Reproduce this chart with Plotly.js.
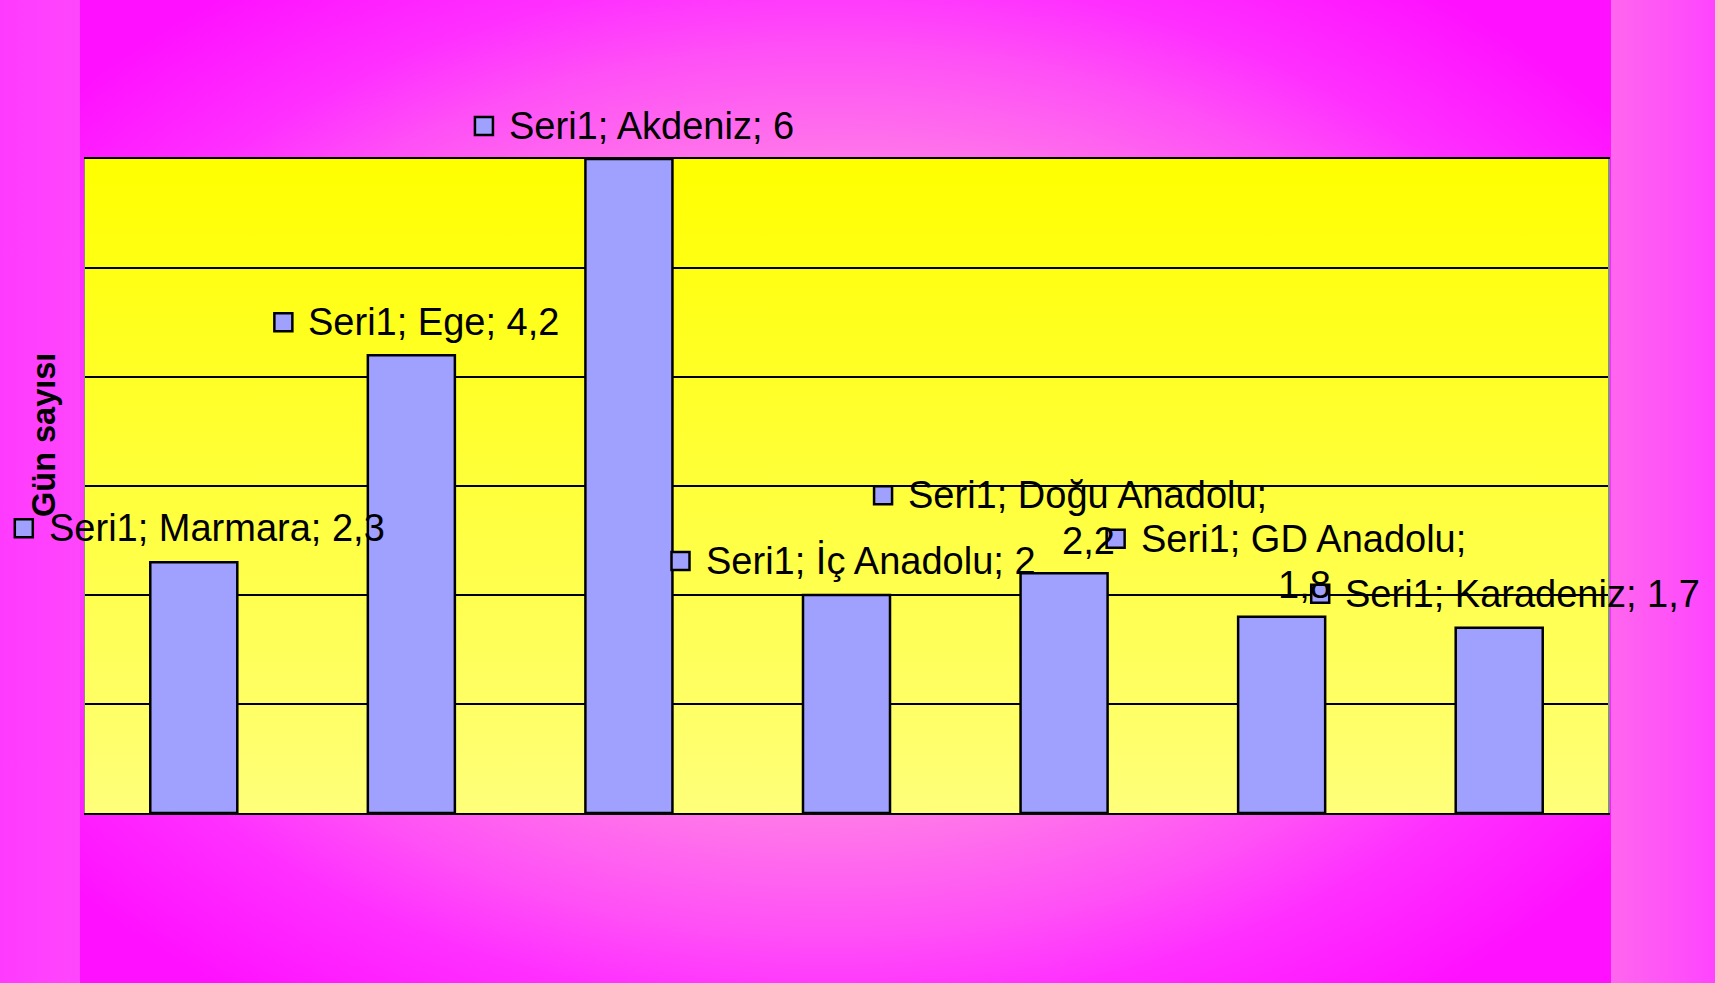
<!DOCTYPE html>
<html>
<head>
<meta charset="utf-8">
<script src="https://cdn.plot.ly/plotly-3.0.1.min.js"></script>
<style>
  html, body { margin: 0; padding: 0; width: 1715px; height: 983px; overflow: hidden; }
  #wrap { position: relative; width: 1715px; height: 983px; }
  .bg { position: absolute; top: 0; height: 983px; }
  #bgLeft { left: 0; width: 80px; background: linear-gradient(to right, #ff3aff, #ff46fc); }
  #bgCenter { left: 80px; width: 1531px;
    background: radial-gradient(closest-side ellipse at 49% 50%, #ffa8d4 0%, #ff94dc 45%, #ff80e6 62%, #ff50f6 90%, #ff30ff 105%, #ff10ff 130%); }
  #bgRight { left: 1611px; width: 104px; background: linear-gradient(to right, #ff66ee, #ff44ff); }
  #plotBg { position: absolute; left: 85px; top: 159px; width: 1523px; height: 654px;
    background: linear-gradient(to bottom, #ffff00 0%, #ffff3a 50%, #ffff7a 100%); }
  #chart { position: absolute; left: 0; top: 0; width: 1715px; height: 983px; }
  /* legend keys of the data labels may sit outside the plot area, as in the original */
  #chart .shapelayer, #chart .shapelayer * { clip-path: none !important; }
</style>
</head>
<body>
<div id="wrap">
  <div class="bg" id="bgLeft"></div>
  <div class="bg" id="bgCenter"></div>
  <div class="bg" id="bgRight"></div>
  <div id="plotBg"></div>
  <div id="chart"></div>
</div>
<script>
// ---- data ----
const categories = ['Marmara', 'Ege', 'Akdeniz', 'İç Anadolu', 'Doğu Anadolu', 'GD Anadolu', 'Karadeniz'];
const values = [2.3, 4.2, 6, 2, 2.2, 1.8, 1.7];
const seriesName = 'Seri1';
const yAxisTitle = 'Gün sayısı';
const yTicks = [0, 1, 2, 3, 4, 5, 6];

// ---- label placement (pixel offsets from bar top-centre, styling only) ----
const keyDx = [-170, -128, -145, -166, -181, -166, -179];
const keyDy = [34, 33, 33, 34, 78, 78, 34];
const wrapLabel = [false, false, false, false, true, true, false];

const FAMILY = 'Liberation Sans, Arial, sans-serif';
const FSIZE = 38;
const labelFont = { family: FAMILY, size: FSIZE, color: '#000000' };
const fmt = v => String(v).replace('.', ',');

const ctx = document.createElement('canvas').getContext('2d');
ctx.font = FSIZE + 'px "Liberation Sans", Arial, sans-serif';
const textWidth = s => ctx.measureText(s).width;

const annotations = [{
  xref: 'paper', yref: 'paper',
  x: -41 / 1523, y: (813 - 435) / 654,
  xanchor: 'center', yanchor: 'middle',
  text: '<b>' + yAxisTitle + '</b>', textangle: -90,
  showarrow: false,
  font: { family: FAMILY, size: 32.5, color: '#000000' }
}];
const shapes = [];
const HALF = 9;
const LINE_GAP = 46;

categories.forEach((c, i) => {
  // legend key square, anchored to the bar top through the axes
  shapes.push({
    type: 'rect', layer: 'above',
    xref: 'x', yref: 'y',
    xsizemode: 'pixel', ysizemode: 'pixel',
    xanchor: i, yanchor: values[i],
    x0: keyDx[i] - HALF, x1: keyDx[i] + HALF,
    y0: keyDy[i] - HALF, y1: keyDy[i] + HALF,
    fillcolor: '#a0a0ff',
    line: { color: '#000000', width: 2.5 }
  });
  if (wrapLabel[i]) {
    const line1 = seriesName + '; ' + c + ';';
    const line2 = fmt(values[i]);
    annotations.push({
      xref: 'x', yref: 'y', x: i, y: values[i],
      xshift: keyDx[i] + 25, yshift: keyDy[i],
      xanchor: 'left', yanchor: 'middle',
      text: line1, showarrow: false, borderpad: 0, borderwidth: 0,
      font: labelFont
    });
    annotations.push({
      xref: 'x', yref: 'y', x: i, y: values[i],
      xshift: keyDx[i] + 25 + textWidth(line1) / 2, yshift: keyDy[i] - LINE_GAP,
      xanchor: 'center', yanchor: 'middle',
      text: line2, showarrow: false, borderpad: 0, borderwidth: 0,
      font: labelFont
    });
  } else {
    annotations.push({
      xref: 'x', yref: 'y', x: i, y: values[i],
      xshift: keyDx[i] + 25, yshift: keyDy[i],
      xanchor: 'left', yanchor: 'middle',
      text: seriesName + '; ' + c + '; ' + fmt(values[i]),
      showarrow: false, borderpad: 0, borderwidth: 0,
      font: labelFont
    });
  }
});

const trace = {
  type: 'bar',
  name: seriesName,
  x: categories,
  y: values,
  marker: { color: '#a0a0ff', line: { color: '#000000', width: 2.5 } },
  hoverinfo: 'none'
};

const layout = {
  width: 1715, height: 983,
  margin: { l: 85, r: 107, t: 159, b: 170, pad: 0 },
  paper_bgcolor: 'rgba(0,0,0,0)',
  plot_bgcolor: 'rgba(0,0,0,0)',
  showlegend: false,
  bargap: 0.6,
  xaxis: {
    type: 'category',
    range: [-0.5, categories.length - 0.5],
    autorange: false,
    showticklabels: false, ticks: '',
    showgrid: false, zeroline: false,
    showline: true, linecolor: '#000000', linewidth: 2, mirror: true,
    fixedrange: true
  },
  yaxis: {
    range: [0, 6],
    autorange: false,
    tickvals: yTicks,
    showticklabels: false, ticks: '',
    showgrid: true, gridcolor: '#000000', gridwidth: 2,
    zeroline: false,
    showline: true, linecolor: '#8a8a8a', linewidth: 1.5, mirror: true,
    fixedrange: true
  },
  shapes: shapes,
  annotations: annotations
};

const unclip = gd => {
  gd.querySelectorAll('.shapelayer, .shapelayer *').forEach(el => el.removeAttribute('clip-path'));
};

document.fonts.ready.then(() => {
  Plotly.newPlot('chart', [trace], layout, { staticPlot: true, displayModeBar: false }).then(gd => {
    unclip(gd);
    setTimeout(() => unclip(gd), 50);
  });
});
</script>
</body>
</html>
